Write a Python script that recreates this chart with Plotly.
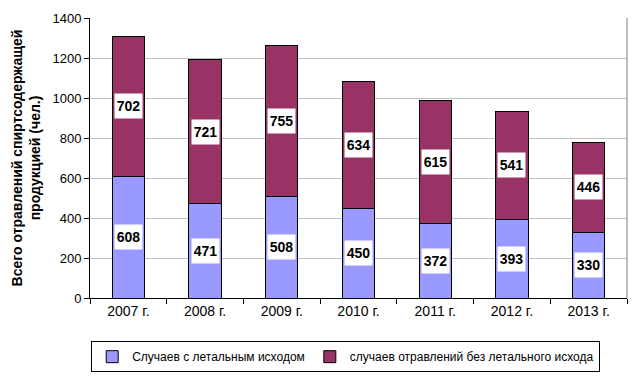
import plotly.graph_objects as go

years = ["2007 г.", "2008 г.", "2009 г.", "2010 г.", "2011 г.", "2012 г.", "2013 г."]
fatal = [608, 471, 508, 450, 372, 393, 330]
nonfatal = [702, 721, 755, 634, 615, 541, 446]
name_fatal = "Случаев с летальным исходом"
name_nonfatal = "случаев отравлений без летального исхода"
col_fatal = "#9999FF"
col_nonfatal = "#993366"

fig = go.Figure()
fig.add_trace(go.Bar(x=years, y=fatal, name=name_fatal, marker=dict(color=col_fatal, line=dict(color="black", width=1))))
fig.add_trace(go.Bar(x=years, y=nonfatal, name=name_nonfatal, marker=dict(color=col_nonfatal, line=dict(color="black", width=1))))

ann = []
for x, f, n in zip(years, fatal, nonfatal):
    for val, mid in ((f, f / 2), (n, f + n / 2)):
        ann.append(dict(x=x, y=mid, text="<b>%d</b>" % val, showarrow=False,
                        bgcolor="white", borderpad=0, width=27, height=24,
                        font=dict(family="Arial, Liberation Sans", size=14, color="black")))

fig.update_layout(
    barmode="stack", bargap=0.58,
    width=639, height=377,
    margin=dict(l=90, r=12, t=18, b=79),
    paper_bgcolor="white", plot_bgcolor="white",
    font=dict(family="Arial, Liberation Sans", size=13, color="black"),
    showlegend=True,
    legend=dict(orientation="h", xref="container", yref="container",
                x=0.541, xanchor="center", y=0.095, yanchor="top",
                bordercolor="black", borderwidth=1, font=dict(size=12), traceorder="normal",
                itemwidth=30),
    annotations=ann,
    shapes=[dict(type="line", xref="paper", yref="paper", x0=1, x1=1, y0=0, y1=1,
                 line=dict(color="#808080", width=1))],
)
fig.update_xaxes(showline=True, linecolor="black", linewidth=1, ticks="outside", tickson="boundaries",
                 ticklen=5, tickcolor="black", tickfont=dict(size=14), automargin=False)
fig.update_yaxes(range=[0, 1400], dtick=200, showline=True, linecolor="black", linewidth=1,
                 ticks="outside", ticklen=5, tickcolor="black", showgrid=True, gridcolor="#C0C0C0",
                 tickfont=dict(size=13), automargin=False,
                 title=dict(text="<b>Всего отравлений спиртсодержащей<br>продукцией (чел.)</b>",
                            font=dict(size=14), standoff=8))
fig.write_html("out.html", config={"displayModeBar": False},
               post_script="document.body.style.margin='0';")
